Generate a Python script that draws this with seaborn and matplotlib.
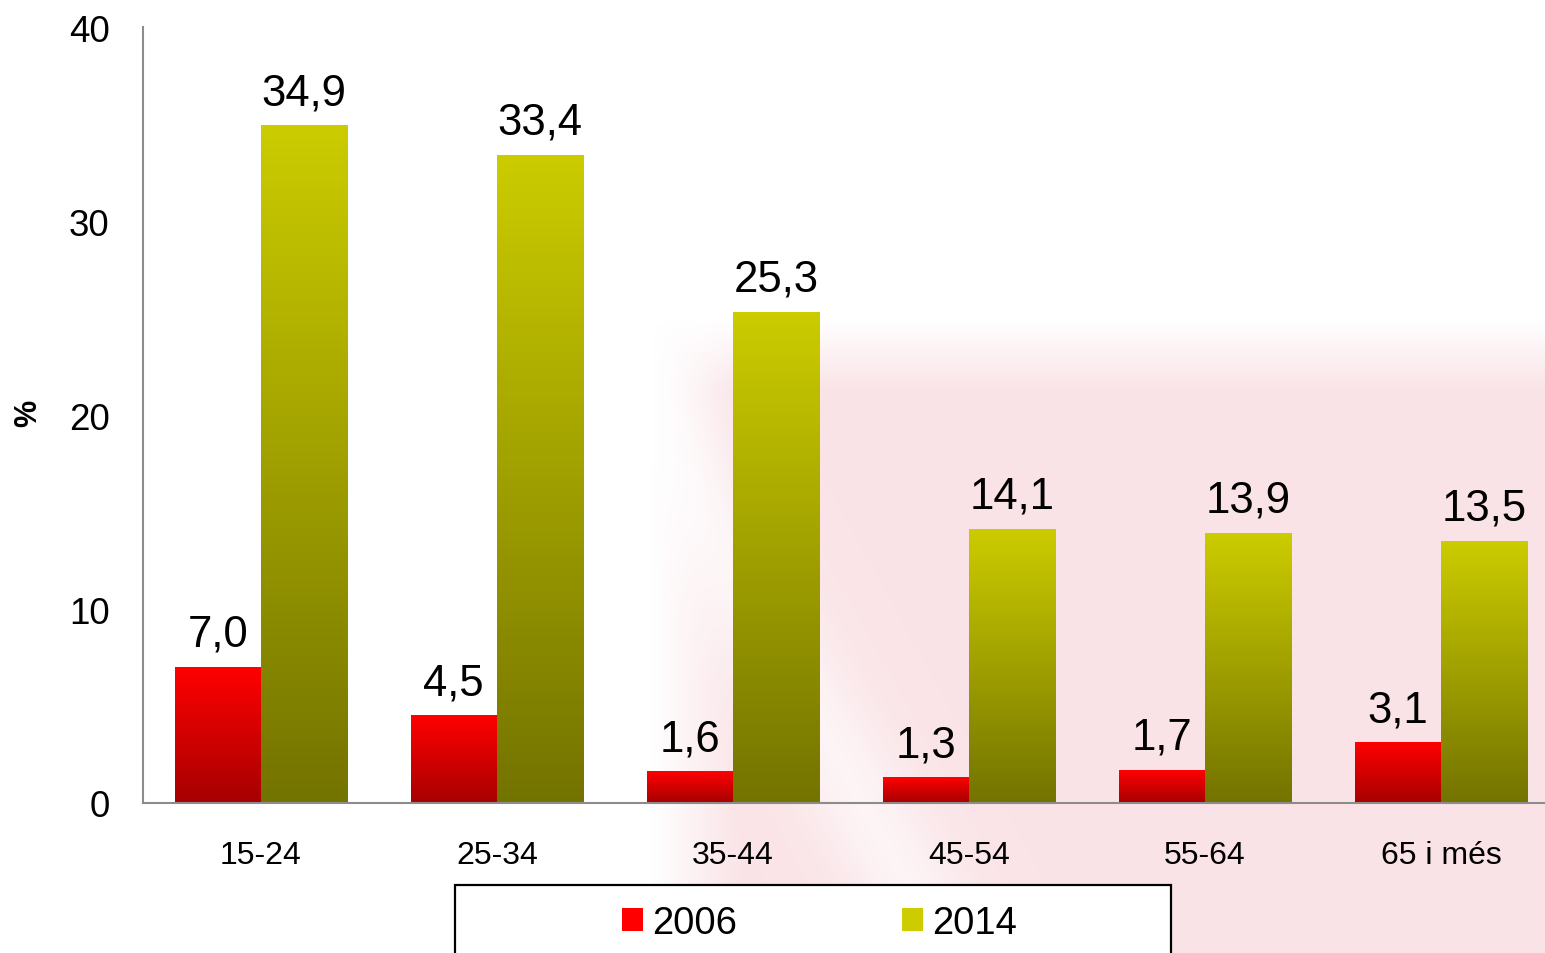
import numpy as np
import pandas as pd
import matplotlib
matplotlib.use("Agg")
import matplotlib.pyplot as plt
import seaborn as sns
from matplotlib.colors import LinearSegmentedColormap
from matplotlib.patches import Patch, Rectangle

# data
age_groups = ["15-24", "25-34", "35-44", "45-54", "55-64", "65 i més"]
years = ["2006", "2014"]
values_2006 = [7.0, 4.5, 1.6, 1.3, 1.7, 3.1]
values_2014 = [34.9, 33.4, 25.3, 14.1, 13.9, 13.5]
y_ticks = [0, 10, 20, 30, 40]

df = pd.DataFrame({
    "edat": age_groups * 2,
    "any": [years[0]] * 6 + [years[1]] * 6,
    "valor": values_2006 + values_2014,
})

sns.set_style("white")
plt.rcParams["font.family"] = ["Liberation Sans", "DejaVu Sans"]

# colours: (top, bottom) of the vertical gradient
grad_colors = {"2006": ("#ff0000", "#a60000"), "2014": ("#cccc00", "#737300")}

W, H = 1545, 954
fig = plt.figure(figsize=(W / 100, H / 100), dpi=100)
fig.patch.set_facecolor("white")

# faint watermark-like pink background on the right
bg = fig.add_axes([0, 0, 1, 1], zorder=-5)
bg.axis("off")
xx, yy = np.meshgrid(np.arange(W), np.arange(H))
a = np.clip((xx - 650) / 90, 0, 1) * np.clip((yy - 320) / 70, 0, 1)
a = a * (1 - 0.6 * np.exp(-((xx - 0.55 * yy - 420) / 60.0) ** 2))
img = np.zeros((H, W, 4))
img[..., 0], img[..., 1], img[..., 2] = 0.975, 0.85, 0.87
img[..., 3] = a * 0.7
bg.imshow(img, extent=[0, W, H, 0], aspect="auto")
bg.set_xlim(0, W)
bg.set_ylim(H, 0)

ax = fig.add_axes([143 / W, 150 / H, 1416 / W, 776 / H])
ax.set_facecolor("none")

sns.barplot(data=df, x="edat", y="valor", hue="any", order=age_groups,
            hue_order=years, palette=[grad_colors[y][0] for y in years],
            width=0.733, gap=0, saturation=1, ax=ax, legend=False)

for cont, yr in zip(ax.containers, years):
    cmap = LinearSegmentedColormap.from_list(yr, [grad_colors[yr][1], grad_colors[yr][0]])
    grad = np.linspace(0, 1, 256).reshape(-1, 1)
    for bar in cont:
        x0, y0, w, h = bar.get_x(), bar.get_y(), bar.get_width(), bar.get_height()
        ax.imshow(grad, extent=[x0, x0 + w, y0, y0 + h], origin="lower",
                  cmap=cmap, aspect="auto", zorder=2)
        bar.set_facecolor("none")
        bar.set_edgecolor("none")
    ax.bar_label(cont, labels=[f"{v:.1f}".replace(".", ",") for v in cont.datavalues],
                 padding=9, fontsize=31.5, color="black")

ax.set_xlim(-0.5, len(age_groups) - 0.5)
ax.set_ylim(0, 40)
ax.set_yticks(y_ticks)
ax.set_xlabel("")
ax.set_ylabel("")
ax.tick_params(axis="y", length=0, pad=24, labelsize=26.5, labelcolor="black")
ax.tick_params(axis="x", length=0, pad=27, labelsize=23, labelcolor="black")

for side in ["top", "right"]:
    ax.spines[side].set_visible(False)
for side in ["left", "bottom"]:
    ax.spines[side].set_color("#8c8c8c")
    ax.spines[side].set_linewidth(1.5)

fig.text(28 / W, 1 - 413 / H, "%", rotation=90, ha="center", va="center",
         fontsize=22, fontweight="bold", color="black")

# legend box (runs off the bottom edge)
fig.patches.append(Rectangle((455 / W, -0.1), 716 / W, 0.1 + (954 - 886) / H,
                             transform=fig.transFigure, facecolor="white",
                             edgecolor="black", linewidth=1.6, zorder=1))
handles = [Patch(facecolor=grad_colors[y][0], edgecolor="none", label=y) for y in years]
fig.legend(handles=handles, loc="center", ncol=2, frameon=False,
           bbox_to_anchor=((626 + 1013) / 2 / W, 1 - 924 / H),
           fontsize=27.5, handlelength=0.55, handleheight=0.55,
           handletextpad=0.25, columnspacing=4.3, labelcolor="black")

fig.savefig("out.png", dpi=100)
